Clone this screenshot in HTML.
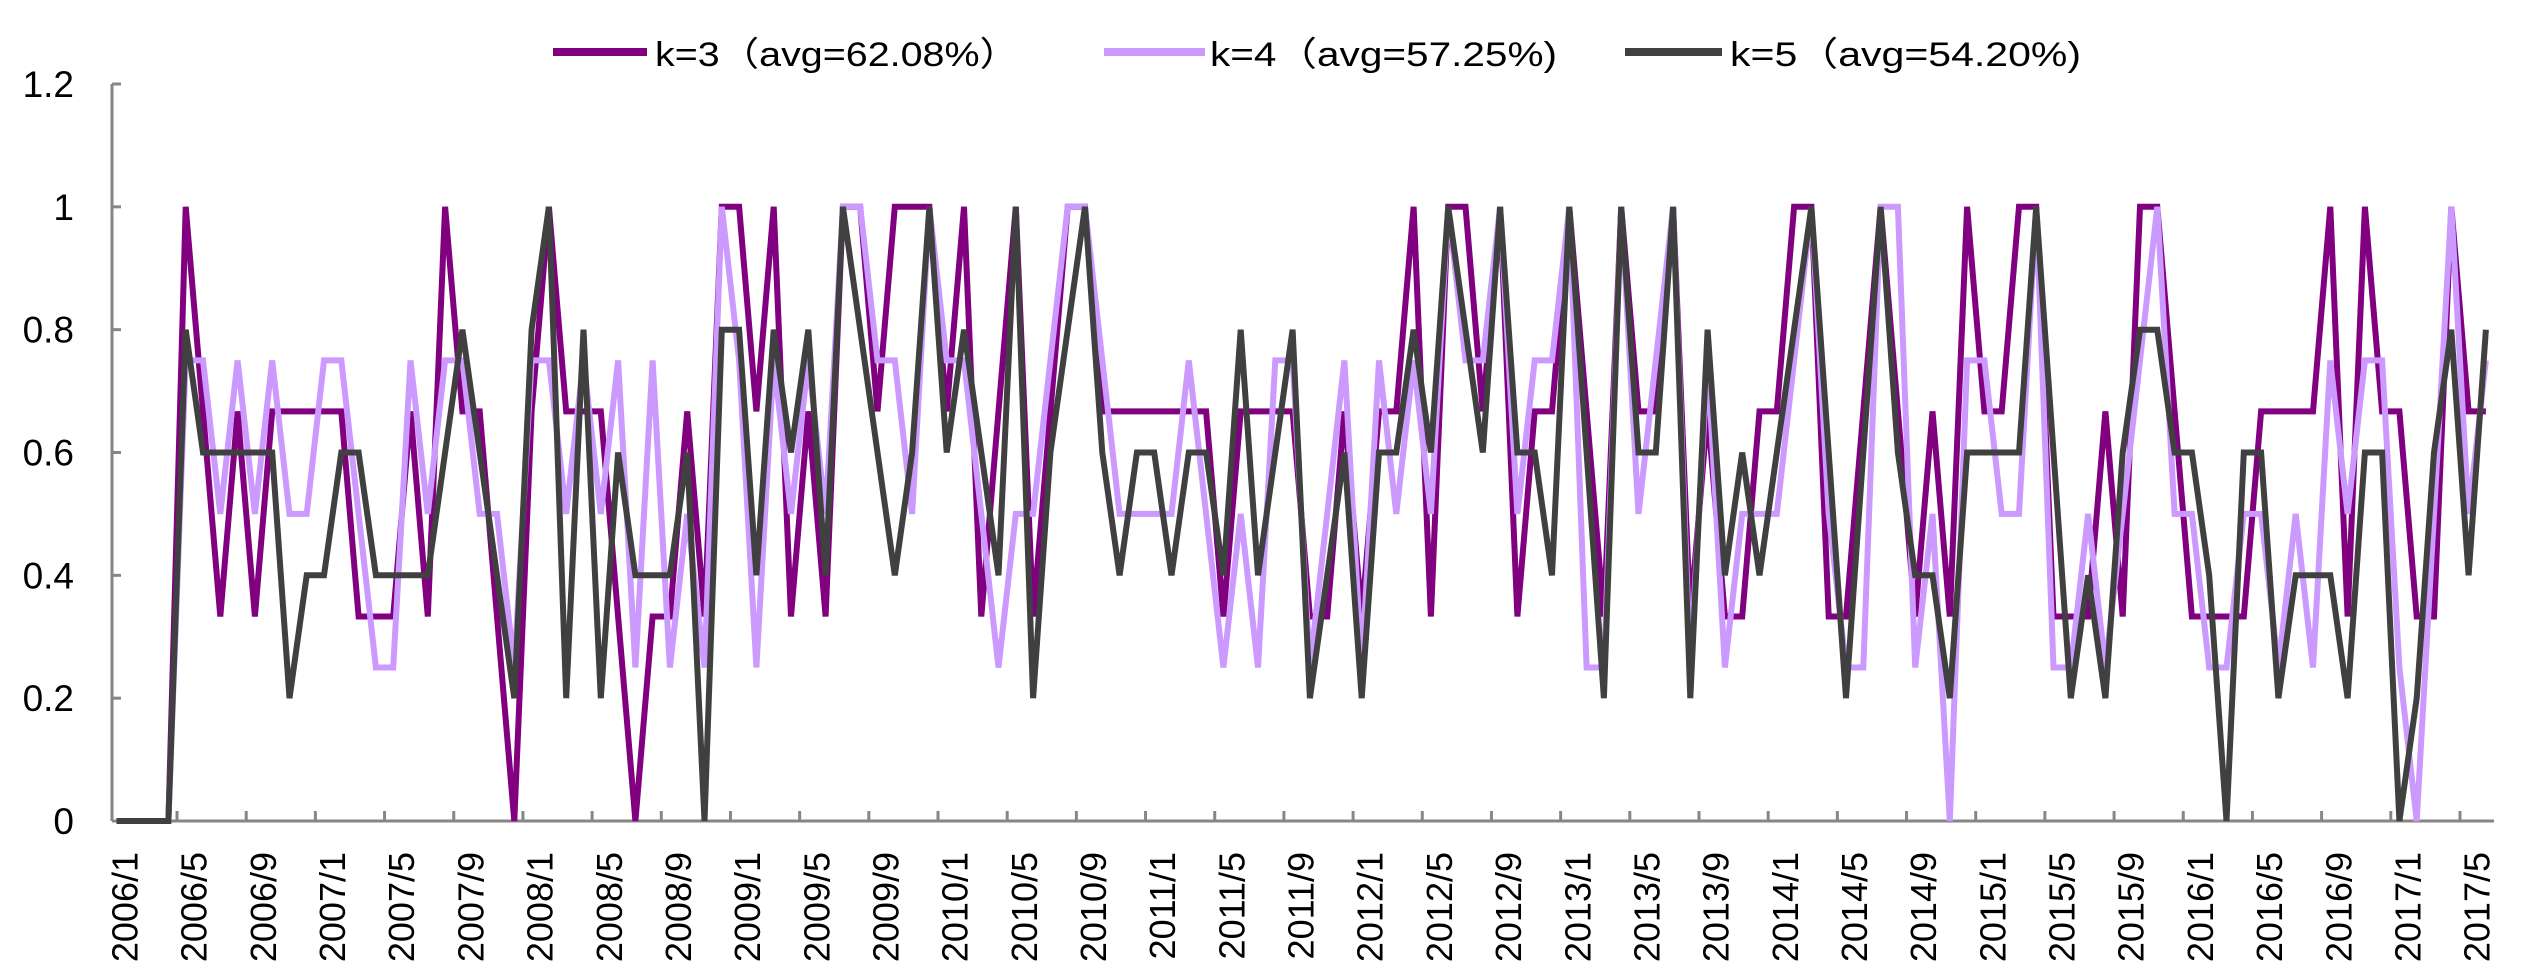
<!DOCTYPE html>
<html><head><meta charset="utf-8"><style>
html,body{margin:0;padding:0;background:#fff;}
svg{display:block;font-family:"Liberation Sans","Noto Sans CJK SC",sans-serif;}
</style></head><body>
<svg id="chart" width="2535" height="972" viewBox="0 0 2535 972" xmlns="http://www.w3.org/2000/svg">
<g id="legend">
 <g>
  <line x1="553" y1="52" x2="647" y2="52" stroke="#800080" stroke-width="8"/>
  <text x="655" y="66" font-size="34" textLength="364" lengthAdjust="spacingAndGlyphs" fill="#000">k=3（avg=62.08%）</text>
 </g>
 <g>
  <line x1="1104" y1="52" x2="1205" y2="52" stroke="#CC99FF" stroke-width="8"/>
  <text x="1210" y="66" font-size="34" textLength="347" lengthAdjust="spacingAndGlyphs" fill="#000">k=4（avg=57.25%)</text>
 </g>
 <g>
  <line x1="1625" y1="52" x2="1722" y2="52" stroke="#404040" stroke-width="8"/>
  <text x="1730" y="66" font-size="34" textLength="351" lengthAdjust="spacingAndGlyphs" fill="#000">k=5（avg=54.20%)</text>
 </g>
</g>
<g id="axes"></g>
<g id="series"></g>
</svg>
<script>
const tickLabels = ["2006/1","2006/5","2006/9","2007/1","2007/5","2007/9","2008/1","2008/5","2008/9","2009/1","2009/5","2009/9","2010/1","2010/5","2010/9","2011/1","2011/5","2011/9","2012/1","2012/5","2012/9","2013/1","2013/5","2013/9","2014/1","2014/5","2014/9","2015/1","2015/5","2015/9","2016/1","2016/5","2016/9","2017/1","2017/5"];
const yTicks = [0,0.2,0.4,0.6,0.8,1,1.2];
const yTickLabels = ["0","0.2","0.4","0.6","0.8","1","1.2"];
const k3 = [0,0,0,0,1,.667,.333,.667,.333,.667,
.667,.667,.667,.667,.333,.333,.333,.667,.333,1,
.667,.667,.333,0,.667,1,.667,.667,.667,.333,
0,.333,.333,.667,.333,1,1,.667,1,.333,
.667,.333,1,1,.667,1,1,1,.667,1,
.333,.667,1,.333,.667,1,1,.667,.667,.667,
.667,.667,.667,.667,.333,.667,.667,.667,.667,.333,
.333,.667,.333,.667,.667,1,.333,1,1,.667,
1,.333,.667,.667,1,.667,.333,1,.667,.667,
1,.333,.667,.333,.333,.667,.667,1,1,.333,
.333,.667,1,.667,.333,.667,.333,1,.667,.667,
1,1,.333,.333,.333,.667,.333,1,1,.667,
.333,.333,.333,.333,.667,.667,.667,.667,1,.333,
1,.667,.667,.333,.333,1,.667,.667];
const k4 = [0,0,0,0,.75,.75,.5,.75,.5,.75,
.5,.5,.75,.75,.5,.25,.25,.75,.5,.75,
.75,.5,.5,.25,.75,.75,.5,.75,.5,.75,
.25,.75,.25,.5,.25,1,.75,.25,.75,.5,
.75,.5,1,1,.75,.75,.5,1,.75,.75,
.5,.25,.5,.5,.75,1,1,.75,.5,.5,
.5,.5,.75,.5,.25,.5,.25,.75,.75,.25,
.5,.75,.25,.75,.5,.75,.5,1,.75,.75,
1,.5,.75,.75,1,.25,.25,1,.5,.75,
1,.25,.75,.25,.5,.5,.5,.75,1,.5,
.25,.25,1,1,.25,.5,0,.75,.75,.5,
.5,1,.25,.25,.5,.25,.5,.75,1,.5,
.5,.25,.25,.5,.5,.25,.5,.25,.75,.5,
.75,.75,.25,0,.5,1,.5,.75];
const k5 = [0,0,0,0,.8,.6,.6,.6,.6,.6,
.2,.4,.4,.6,.6,.4,.4,.4,.4,.6,
.8,.6,.4,.2,.8,1,.2,.8,.2,.6,
.4,.4,.4,.6,0,.8,.8,.4,.8,.6,
.8,.4,1,.8,.6,.4,.6,1,.6,.8,
.6,.4,1,.2,.6,.8,1,.6,.4,.6,
.6,.4,.6,.6,.4,.8,.4,.6,.8,.2,
.4,.6,.2,.6,.6,.8,.6,1,.8,.6,
1,.6,.6,.4,1,.6,.2,1,.6,.6,
1,.2,.8,.4,.6,.4,.6,.8,1,.6,
.2,.6,1,.6,.4,.4,.2,.6,.6,.6,
.6,1,.6,.2,.4,.2,.6,.8,.8,.6,
.6,.4,0,.6,.6,.2,.4,.4,.4,.2,
.6,.6,0,.2,.6,.8,.4,.8];

const NS = "http://www.w3.org/2000/svg";
const AX_L = 112, AX_R = 2494, Y0 = 821, Y12 = 84;
const X0 = 116.5, DX = 17.295;
function xPos(i){ return X0 + DX * i; }
function yPos(v){ return Y0 - (v / 1.2) * (Y0 - Y12); }
function mk(tag, attrs, parent){
  const e = document.createElementNS(NS, tag);
  for (const k in attrs) e.setAttribute(k, attrs[k]);
  parent.appendChild(e);
  return e;
}
const axes = document.getElementById('axes');
const yAxis = mk('line', {x1:AX_L, y1:Y12, x2:AX_L, y2:Y0, stroke:'#868686', 'stroke-width':3}, axes);


yTicks.forEach((v, k) => {
  const t = mk('line', {x1:AX_L, y1:yPos(v), x2:AX_L + 9, y2:yPos(v), stroke:'#868686', 'stroke-width':3}, axes);
  
  
  const lb = mk('text', {x:74, y:yPos(v) + 13, 'font-size':37, 'text-anchor':'end', fill:'#000'}, axes);
  lb.textContent = yTickLabels[k];
  
  
});
const xAxis = mk('line', {x1:AX_L, y1:Y0, x2:AX_R, y2:Y0, stroke:'#868686', 'stroke-width':3}, axes);


tickLabels.forEach((s, k) => {
  const i = k * 4;
  if (k > 0) {
    const tx = xPos(i - 0.5);
    const t = mk('line', {x1:tx, y1:Y0, x2:tx, y2:Y0 - 10, stroke:'#868686', 'stroke-width':3}, axes);
    
    
  }
  const cx = xPos(i) + 8;
  const lb = mk('text', {x:0, y:0, 'font-size':36, 'text-anchor':'end', fill:'#000',
    transform:'translate(' + (cx + 13) + ',852) rotate(-90)'}, axes);
  lb.textContent = s;
  
  
});
const series = document.getElementById('series');
[[k3, '#800080', 'series-k3'], [k4, '#CC99FF', 'series-k4'], [k5, '#404040', 'series-k5']].forEach(([arr, col, nm]) => {
  const pts = arr.map((v, i) => xPos(i).toFixed(1) + ',' + yPos(v).toFixed(1)).join(' ');
  const p = mk('polyline', {points:pts, fill:'none', stroke:col, 'stroke-width':6, 'stroke-linejoin':'miter', 'stroke-miterlimit':3}, series);
  
  
});
</script>
</body></html>
